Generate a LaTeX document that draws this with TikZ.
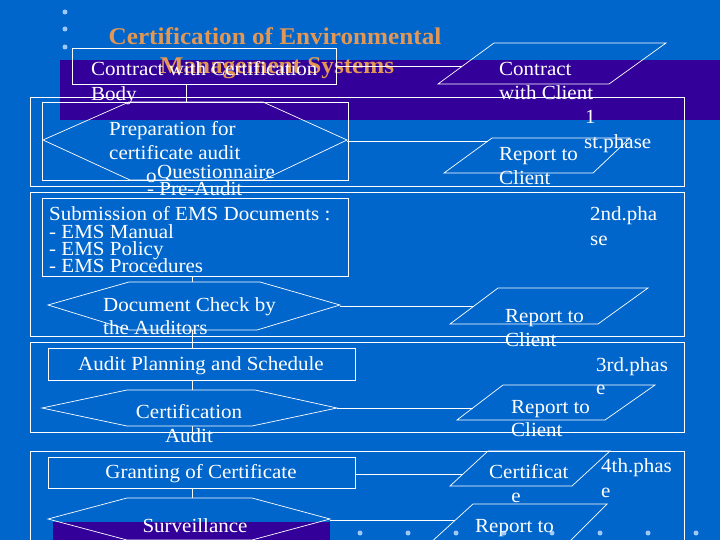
\documentclass[tikz,border=0pt]{standalone}
\usepackage{fontspec}
\setmainfont{Liberation Serif}[FakeStretch=1.05]
\usepackage{xcolor}

\definecolor{slideblue}{RGB}{0,102,204}
\definecolor{bandpurple}{RGB}{51,0,153}
\definecolor{titleorange}{RGB}{226,152,84}
\definecolor{dotblue}{RGB}{160,200,245}

\begin{document}
\begin{tikzpicture}[x=1pt,y=1pt,yscale=-1,
  txt/.style={text=white,font=\fontsize{20}{24}\selectfont,inner sep=0pt,anchor=base west},
  ctxt/.style={txt,anchor=base},
  ttl/.style={text=titleorange,font=\bfseries\fontsize{24}{29}\selectfont,inner sep=0pt,anchor=base},
  wline/.style={draw=white,line width=0.7pt},
  bulletdot/.style={fill=dotblue,draw=none}]
\useasboundingbox (0,0) rectangle (720,540);
\clip (0,0) rectangle (720,540);

%Shape: Background
\fill [slideblue] (0,0) rectangle (720,540);
\fill [bandpurple] (60,60) rectangle (720,120);
\fill [bandpurple] (53,522) rectangle (330,540);

%Shape: Bullets
\foreach \y in {12,29,47} \fill [bulletdot] (65,\y) circle (2.5);
\foreach \x in {360,408,...,696} \fill [bulletdot] (\x,533) circle (2.5);

% Title
\node [ttl] (title1) at (275,45) {Certification of Environmental};
\node [ttl] (title2) at (277,74) {Management Systems};

%Shape: Phase frames
\draw [wline] (30,97) rectangle (684,186);
\draw [wline] (30,192) rectangle (684,336);
\draw [wline] (30,342) rectangle (684,432);
\draw [wline] (30,451) rectangle (684,548);

%Shape: Rectangles
\draw [wline] (72,48) rectangle (336,84);
\draw [wline] (42,102) rectangle (348,180);
\draw [wline] (42,198) rectangle (348,276);
\draw [wline] (48,348) rectangle (355,380);
\draw [wline] (48,457) rectangle (355,488);

%Shape: Hexagons
\draw [wline] (43,140) -- (129,102) -- (263,102) -- (347,140) -- (263,180) -- (130,180) -- cycle;
\draw [wline] (48,305) -- (129,282) -- (260,282) -- (340,305) -- (257,330) -- (129,330) -- cycle;
\draw [wline] (42,408) -- (127,390) -- (255,390) -- (337,408) -- (252,426) -- (127,426) -- cycle;
\draw [wline] (48,519) -- (127,498) -- (252,498) -- (330,519) -- (252,540) -- (127,540) -- cycle;

%Shape: Parallelograms
\draw [wline] (494,43) -- (666,43) -- (609,84) -- (438,84) -- cycle;
\draw [wline] (492,138) -- (630,138) -- (593,173) -- (444,173) -- cycle;
\draw [wline] (498,288) -- (648,288) -- (598,324) -- (450,324) -- cycle;
\draw [wline] (503,385) -- (655,385) -- (605,420) -- (457,420) -- cycle;
\draw [wline] (488,451) -- (610,451) -- (572,486) -- (450,486) -- cycle;
\draw [wline] (473,504) -- (607,504) -- (566,545) -- (428,545) -- cycle;

% Connector ends
\coordinate (cbR) at (336,66);   \coordinate (ccL) at (462,66);
\coordinate (cbB) at (186,84);   \coordinate (prT) at (186,102);
\coordinate (prR) at (347,141);  \coordinate (r1L) at (488,141);
\coordinate (emB) at (192,276);  \coordinate (dcT) at (192,282);
\coordinate (dcB) at (192,330);  \coordinate (apT) at (192,348);
\coordinate (dcR) at (340,306);  \coordinate (r2L) at (474,306);
\coordinate (apB) at (192,380);  \coordinate (caT) at (192,390);
\coordinate (caB) at (192,426);  \coordinate (caS) at (192,438);
\coordinate (caR) at (337,408);  \coordinate (r3L) at (473,408);
\coordinate (grR) at (355,474);  \coordinate (ceL) at (463,474);
\coordinate (grB) at (192,488);  \coordinate (svT) at (192,498);
\coordinate (svR) at (330,520);  \coordinate (r4L) at (455,520);

%Straight Lines
\draw [wline] (cbR) -- (ccL);
\draw [wline] (cbB) -- (prT);
\draw [wline] (prR) -- (r1L);
\draw [wline] (emB) -- (dcT);
\draw [wline] (dcB) -- (apT);
\draw [wline] (dcR) -- (r2L);
\draw [wline] (apB) -- (caT);
\draw [wline] (caB) -- (caS);
\draw [wline] (caR) -- (r3L);
\draw [wline] (grR) -- (ceL);
\draw [wline] (grB) -- (svT);
\draw [wline] (svR) -- (r4L);

% Text Node
\node [txt] (cb1) at (91,76) {Contract with Certification};
\node [txt] (cb2) at (91,101) {Body};
\node [txt] (cc1) at (499,76) {Contract};
\node [txt] (cc2) at (499,100) {with Client};
\node [txt] (ph1a) at (585,124) {1};
\node [txt] (ph1b) at (584,149) {st.phase};
\node [txt] (pr1) at (109,136) {Preparation for};
\node [txt] (pr2) at (109,160) {certificate audit};
\node [txt] (pr3) at (146,183) {o};
\node [txt] (pr4) at (157,179) {Questionnaire};
\node [txt] (pr5) at (147,196) {- Pre-Audit};
\node [txt] (r1a) at (499,161) {Report to};
\node [txt] (r1b) at (499,185) {Client};
% Text Node
\node [txt] (em1) at (49,221) {Submission of EMS Documents :};
\node [txt] (em2) at (49,239) {- EMS Manual};
\node [txt] (em3) at (49,255) {- EMS Policy};
\node [txt] (em4) at (49,272) {- EMS Procedures};
\node [txt] (ph2a) at (590,221) {2nd.pha};
\node [txt] (ph2b) at (590,245) {se};
\node [txt] (dc1) at (103,311) {Document Check by};
\node [txt] (dc2) at (103,334) {the Auditors};
\node [txt] (r2a) at (505,322) {Report to};
\node [txt] (r2b) at (505,346) {Client};
% Text Node
\node [ctxt] (ap) at (201,370) {Audit Planning and Schedule};
\node [txt] (ph3a) at (596,371) {3rd.phas};
\node [txt] (ph3b) at (596,394) {e};
\node [ctxt] (ca1) at (189,418) {Certification};
\node [ctxt] (ca2) at (189,442) {Audit};
\node [txt] (r3a) at (511,413) {Report to};
\node [txt] (r3b) at (511,436) {Client};
% Text Node
\node [ctxt] (gr) at (201,478) {Granting of Certificate};
\node [txt] (ce1) at (489,478) {Certificat};
\node [ctxt] (ce2) at (516,502) {e};
\node [txt] (ph4a) at (601,472) {4th.phas};
\node [txt] (ph4b) at (601,497) {e};
\node [ctxt] (sv) at (195,532) {Surveillance};
\node [txt] (r4a) at (475,532) {Report to};

\end{tikzpicture}
\end{document}
